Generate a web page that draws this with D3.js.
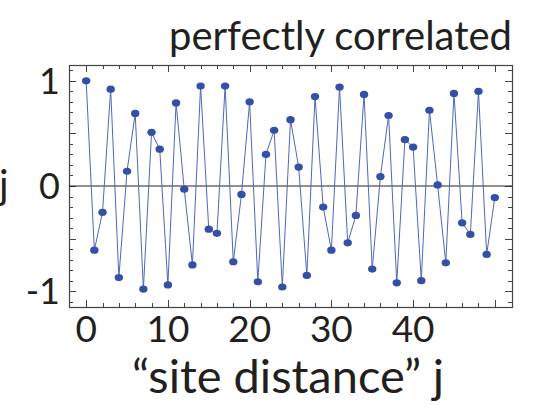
<!DOCTYPE html>
<html>
<head>
<meta charset="utf-8">
<script src="https://cdn.jsdelivr.net/npm/d3@7"></script>
<style>
  body { margin: 0; background: #fff; }
  svg { display: block; }
</style>
</head>
<body>
<script>
// -------------------- DATA --------------------
// correlation value at each site distance j = 0..50
var sites = d3.range(0, 51);
var corr = [
  1.00, -0.61, -0.25, 0.92, -0.87, 0.14, 0.69, -0.98, 0.51, 0.35,
  -0.94, 0.79, -0.03, -0.75, 0.95, -0.41, -0.45, 0.95, -0.72, -0.08,
  0.80, -0.91, 0.30, 0.53, -0.96, 0.63, 0.18, -0.85, 0.85, -0.20,
  -0.61, 0.94, -0.54, -0.28, 0.87, -0.79, 0.09, 0.67, -0.92, 0.44,
  0.37, -0.90, 0.72, 0.01, -0.73, 0.88, -0.35, -0.46, 0.90, -0.65,
  -0.11
];
var xTickLabels = [0, 10, 20, 30, 40];
var yTickLabels = [-1, 0, 1];
var titleText = "perfectly correlated";
var xLabel = "\u201csite distance\u201d j";
var yLabel = "j";

// -------------------- DIMENSIONS --------------------
var w = 545, h = 406;
var frame = { left: 69, right: 512, top: 65, bottom: 307 };
var font = "Lato, 'Open Sans', sans-serif";
var ink = "#231f20";

var x = d3.scaleLinear().domain([-2.1, 52.1]).range([frame.left, frame.right]);
var y = d3.scaleLinear().domain([-1.15, 1.15]).range([frame.bottom, frame.top]);

var svg = d3.select("body").append("svg")
  .attr("width", w)
  .attr("height", h);

// -------------------- FRAME + TICKS --------------------
var minorX = d3.range(0, 51, 2);
var minorY = d3.range(-11, 12).map(function(d){ return d / 10; });

function isMajorX(d){ return d % 10 === 0; }
function isMajorY(d){ return Math.abs(d * 2 - Math.round(d * 2)) < 1e-6; }

var ticks = svg.append("g")
  .attr("stroke", "#444")
  .attr("stroke-width", 1);

// bottom + top ticks point inward
minorX.forEach(function(d){
  var len = isMajorX(d) ? 7 : 4;
  var px = Math.round(x(d)) + 0.5;
  ticks.append("line").attr("x1", px).attr("x2", px)
    .attr("y1", frame.bottom).attr("y2", frame.bottom - len);
  ticks.append("line").attr("x1", px).attr("x2", px)
    .attr("y1", frame.top).attr("y2", frame.top + len);
});

// left + right ticks
minorY.forEach(function(d){
  var len = isMajorY(d) ? 7 : 4;
  var py = Math.round(y(d)) + 0.5;
  ticks.append("line").attr("x1", frame.left).attr("x2", frame.left + len)
    .attr("y1", py).attr("y2", py);
  ticks.append("line").attr("x1", frame.right).attr("x2", frame.right - len)
    .attr("y1", py).attr("y2", py);
});

svg.append("rect")
  .attr("x", frame.left + 0.5)
  .attr("y", frame.top + 0.5)
  .attr("width", frame.right - frame.left)
  .attr("height", frame.bottom - frame.top)
  .attr("fill", "none")
  .attr("stroke", "#444")
  .attr("stroke-width", 1.2);

// zero line
svg.append("line")
  .attr("x1", frame.left).attr("x2", frame.right)
  .attr("y1", y(0)).attr("y2", y(0))
  .attr("stroke", "#222")
  .attr("stroke-width", 1);

// -------------------- SERIES --------------------
var line = d3.line()
  .x(function(d, i){ return x(sites[i]); })
  .y(function(d){ return y(d); });

svg.append("path")
  .datum(corr)
  .attr("d", line)
  .attr("fill", "none")
  .attr("stroke", "#4d68b8")
  .attr("stroke-width", 1);

svg.selectAll("ellipse.pt")
  .data(corr)
  .enter()
  .append("ellipse")
  .attr("class", "pt")
  .attr("cx", function(d, i){ return x(sites[i]); })
  .attr("cy", function(d){ return y(d); })
  .attr("rx", 4.2)
  .attr("ry", 3.6)
  .attr("fill", "#3450a6");

// -------------------- TEXT --------------------
svg.selectAll("text.xt")
  .data(xTickLabels)
  .enter()
  .append("text")
  .attr("class", "xt")
  .attr("x", function(d){ return x(d); })
  .attr("y", 342)
  .attr("text-anchor", "middle")
  .attr("font-family", font)
  .attr("font-size", 37)
  .attr("fill", ink)
  .text(function(d){ return d; });

svg.selectAll("text.yt")
  .data(yTickLabels)
  .enter()
  .append("text")
  .attr("class", "yt")
  .attr("x", 60)
  .attr("y", function(d){ return y(d) + 13; })
  .attr("text-anchor", "end")
  .attr("font-family", font)
  .attr("font-size", 36)
  .attr("fill", ink)
  .text(function(d){ return d === -1 ? "-1" : d; });

svg.append("text")
  .attr("x", frame.right)
  .attr("y", 50)
  .attr("text-anchor", "end")
  .attr("font-family", font)
  .attr("font-size", 40)
  .attr("fill", ink)
  .text(titleText);

svg.append("text")
  .attr("x", 288)
  .attr("y", 393)
  .attr("text-anchor", "middle")
  .attr("font-family", font)
  .attr("font-size", 47)
  .attr("fill", ink)
  .text(xLabel);

svg.append("text")
  .attr("x", -1)
  .attr("y", 199)
  .attr("font-family", font)
  .attr("font-size", 40)
  .attr("fill", ink)
  .text(yLabel);
</script>
</body>
</html>
